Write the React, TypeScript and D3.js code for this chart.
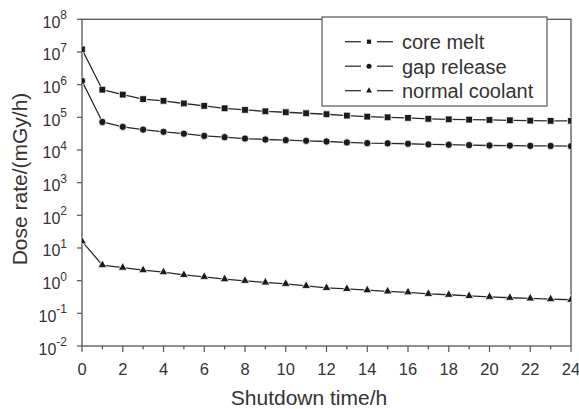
import React from "react";
import * as d3 from "d3";

// shutdown time (h)
const hours = [0, 1, 2, 3, 4, 5, 6, 7, 8, 9, 10, 11, 12, 13, 14, 15, 16, 17, 18, 19, 20, 21, 22, 23, 24];

// dose rate (mGy/h)
const coreMelt = [
  1.2e7, 7.0e5, 4.95e5, 3.6e5, 3.2e5, 2.65e5, 2.24e5, 1.89e5, 1.69e5, 1.53e5, 1.43e5, 1.33e5, 1.24e5,
  1.13e5, 1.05e5, 1.0e5, 9.6e4, 9.0e4, 8.7e4, 8.5e4, 8.3e4, 8.1e4, 7.9e4, 7.8e4, 7.8e4,
];
const gapRelease = [
  1.3e6, 7.2e4, 5.1e4, 4.2e4, 3.6e4, 3.15e4, 2.7e4, 2.46e4, 2.24e4, 2.09e4, 2.0e4, 1.91e4, 1.82e4,
  1.7e4, 1.62e4, 1.6e4, 1.55e4, 1.48e4, 1.45e4, 1.41e4, 1.37e4, 1.36e4, 1.34e4, 1.33e4, 1.31e4,
];
const normalCoolant = [
  16, 3.0, 2.5, 2.1, 1.82, 1.5, 1.31, 1.11, 0.99, 0.88, 0.8, 0.69, 0.6, 0.56, 0.51, 0.47, 0.44, 0.395,
  0.37, 0.34, 0.32, 0.3, 0.286, 0.272, 0.26,
];

const seriesNames = ["core melt", "gap release", "normal coolant"];
const xTicksMajor = [0, 2, 4, 6, 8, 10, 12, 14, 16, 18, 20, 22, 24];
const xTicksMinor = [1, 3, 5, 7, 9, 11, 13, 15, 17, 19, 21, 23];
const yExponents = [-2, -1, 0, 1, 2, 3, 4, 5, 6, 7, 8];

const W = 579;
const H = 409;
const plot = { left: 82, right: 571, top: 19.3, bottom: 346 };
const font = "'Liberation Sans', Arial, Helvetica, sans-serif";
const axisColor = "#555";
const textColor = "#333";

export default function App() {
  const x = d3.scaleLinear().domain([0, 24]).range([plot.left, plot.right]);
  const y = d3.scaleLog().domain([1e-2, 1e8]).range([plot.bottom, plot.top]);

  const series = [
    { name: seriesNames[0], values: coreMelt, symbol: d3.symbolSquare, size: 46, legendSize: 18 },
    { name: seriesNames[1], values: gapRelease, symbol: d3.symbolCircle, size: 42, legendSize: 20 },
    { name: seriesNames[2], values: normalCoolant, symbol: d3.symbolTriangle, size: 34, legendSize: 15 },
  ];

  const line = d3
    .line<number>()
    .x((_, i) => x(hours[i]))
    .y((d) => y(d));

  const legend = { x0: 322, y0: 17, x1: 547, y1: 106 };
  const legendRows = [41.7, 66.2, 90.7];

  return (
    <svg
      width={W}
      height={H}
      style={{ position: "absolute", left: 0, top: 0, background: "#fff" }}
      fontFamily={font}
    >
      <defs>
        <clipPath id="plotClip">
          <rect x={plot.left} y={plot.top} width={plot.right - plot.left} height={plot.bottom - plot.top} />
        </clipPath>
      </defs>

      {/* frame */}
      <rect
        x={plot.left}
        y={plot.top}
        width={plot.right - plot.left}
        height={plot.bottom - plot.top}
        fill="none"
        stroke={axisColor}
        strokeWidth={1.3}
      />

      {/* x ticks */}
      {xTicksMajor.map((t) => (
        <g key={"xM" + t}>
          <line x1={x(t)} x2={x(t)} y1={plot.bottom} y2={plot.bottom + 6} stroke={axisColor} strokeWidth={1.2} />
          <text x={x(t)} y={375} textAnchor="middle" fontSize={16.5} fill={textColor}>
            {t}
          </text>
        </g>
      ))}
      {xTicksMinor.map((t) => (
        <line key={"xm" + t} x1={x(t)} x2={x(t)} y1={plot.bottom} y2={plot.bottom + 3.5} stroke={axisColor} strokeWidth={1.2} />
      ))}

      {/* y ticks */}
      {yExponents.map((e) => {
        const yy = y(Math.pow(10, e));
        return (
          <g key={"y" + e}>
            <line x1={plot.left - 5} x2={plot.left} y1={yy} y2={yy} stroke={axisColor} strokeWidth={1.2} />
            <text x={67} y={yy + 8.5} textAnchor="end" fontSize={16} fill={textColor}>
              10
              <tspan dy={-8.5} fontSize={12}>
                {e}
              </tspan>
            </text>
          </g>
        );
      })}

      {/* axis titles */}
      <text x={309} y={405} textAnchor="middle" fontSize={21} fill={textColor}>
        Shutdown time/h
      </text>
      <text transform="translate(27,179) rotate(-90)" textAnchor="middle" fontSize={21} fill={textColor}>
        Dose rate/(mGy/h)
      </text>

      {/* series */}
      <g clipPath="url(#plotClip)">
        {series.map((s) => (
          <g key={s.name}>
            <path d={line(s.values) || ""} fill="none" stroke="#2a2a2a" strokeWidth={1.3} />
            {s.values.map((v, i) => (
              <path
                key={i}
                transform={`translate(${x(hours[i])},${y(v)})`}
                d={d3.symbol(s.symbol, s.size)() || ""}
                fill="#1a1a1a"
                stroke="#fff"
                strokeWidth={0.8}
              />
            ))}
          </g>
        ))}
      </g>

      {/* legend */}
      <rect
        x={legend.x0}
        y={legend.y0}
        width={legend.x1 - legend.x0}
        height={legend.y1 - legend.y0}
        fill="#fff"
        stroke={axisColor}
        strokeWidth={1.2}
      />
      {series.map((s, i) => (
        <g key={"leg" + s.name}>
          <line x1={345} x2={361} y1={legendRows[i]} y2={legendRows[i]} stroke="#333" strokeWidth={1.3} />
          <line x1={377} x2={393} y1={legendRows[i]} y2={legendRows[i]} stroke="#333" strokeWidth={1.3} />
          <path
            transform={`translate(369,${legendRows[i]})`}
            d={d3.symbol(s.symbol, s.legendSize)() || ""}
            fill="#1a1a1a"
          />
          <text x={402} y={legendRows[i] + 7.3} fontSize={20} fill={textColor}>
            {s.name}
          </text>
        </g>
      ))}
    </svg>
  );
}
